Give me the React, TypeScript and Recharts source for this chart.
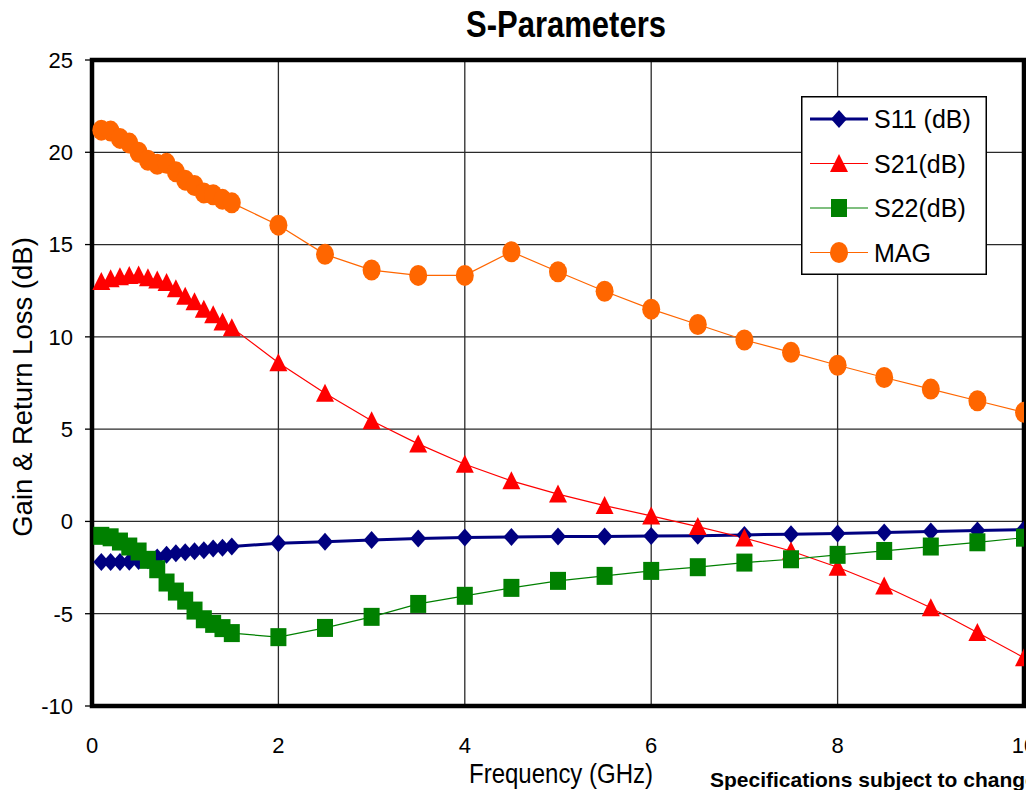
import React from 'react';
import { LineChart, Line, XAxis, YAxis, CartesianGrid, ReferenceArea, Legend } from 'recharts';

const freqGHz = [0.1, 0.2, 0.3, 0.4, 0.5, 0.6, 0.7, 0.8, 0.9, 1.0, 1.1, 1.2, 1.3, 1.4, 1.5, 2, 2.5, 3, 3.5, 4, 4.5, 5, 5.5, 6, 6.5, 7, 7.5, 8, 8.5, 9, 9.5, 10];
const s11dB = [-2.2, -2.2, -2.2, -2.18, -2.15, -2.1, -1.95, -1.8, -1.72, -1.67, -1.62, -1.56, -1.47, -1.42, -1.36, -1.18, -1.1, -1.0, -0.92, -0.87, -0.84, -0.82, -0.81, -0.79, -0.77, -0.73, -0.69, -0.65, -0.6, -0.55, -0.49, -0.44];
const s21dB = [13.0, 13.15, 13.25, 13.33, 13.35, 13.2, 13.08, 12.95, 12.6, 12.2, 11.9, 11.5, 11.2, 10.8, 10.5, 8.6, 6.95, 5.45, 4.2, 3.1, 2.2, 1.48, 0.86, 0.3, -0.28, -0.9, -1.6, -2.48, -3.5, -4.68, -6.02, -7.38];
const s22dB = [-0.78, -0.86, -1.09, -1.36, -1.63, -2.08, -2.59, -3.31, -3.8, -4.29, -4.83, -5.3, -5.55, -5.78, -6.05, -6.27, -5.77, -5.17, -4.47, -4.03, -3.6, -3.22, -2.95, -2.68, -2.48, -2.23, -2.05, -1.81, -1.6, -1.36, -1.13, -0.88];
const magDB = [21.2, 21.15, 20.75, 20.5, 20.0, 19.57, 19.35, 19.4, 18.94, 18.49, 18.2, 17.8, 17.7, 17.45, 17.26, 16.05, 14.47, 13.62, 13.33, 13.33, 14.61, 13.53, 12.47, 11.5, 10.67, 9.83, 9.16, 8.46, 7.8, 7.17, 6.54, 5.91];

const xTicks = [0, 2, 4, 6, 8, 10];
const yTicks = [-10, -5, 0, 5, 10, 15, 20, 25];
const seriesNames = ['S11 (dB)', 'S21(dB)', 'S22(dB)', 'MAG'];

const data = freqGHz.map((f, i) => ({ f, s11: s11dB[i], s21: s21dB[i], s22: s22dB[i], mag: magDB[i] }));

const FONT = '"Liberation Sans", Arial, Helvetica, sans-serif';

type Kind = 'diamond' | 'triangle' | 'square' | 'circle';

const series: { key: string; name: string; color: string; width: number; marker: Kind }[] = [
  { key: 's11', name: seriesNames[0], color: '#000080', width: 3, marker: 'diamond' },
  { key: 's21', name: seriesNames[1], color: '#FF0000', width: 1.2, marker: 'triangle' },
  { key: 's22', name: seriesNames[2], color: '#008000', width: 1.2, marker: 'square' },
  { key: 'mag', name: seriesNames[3], color: '#FF6600', width: 1.2, marker: 'circle' },
];

function Marker({ kind, cx, cy, color }: { kind: Kind; cx: number; cy: number; color: string }) {
  switch (kind) {
    case 'diamond':
      return <polygon points={`${cx},${cy - 9} ${cx + 8},${cy} ${cx},${cy + 9} ${cx - 8},${cy}`} fill={color} />;
    case 'triangle':
      return <polygon points={`${cx},${cy - 9.5} ${cx + 9},${cy + 8.5} ${cx - 9},${cy + 8.5}`} fill={color} />;
    case 'square':
      return <rect x={cx - 8} y={cy - 9} width={16} height={18} fill={color} />;
    default:
      return <ellipse cx={cx} cy={cy} rx={9} ry={10.5} fill={color} />;
  }
}

const makeDot = (kind: Kind, color: string) => (props: any) => {
  const { cx, cy, index } = props;
  if (cx == null || cy == null) return <g key={`e-${kind}-${index}`} />;
  return (
    <g key={`${kind}-${index}`}>
      <Marker kind={kind} cx={cx} cy={cy} color={color} />
    </g>
  );
};

const renderLegend = () => (
  <svg width={186} height={179} style={{ display: 'block' }}>
    <rect x={0.75} y={0.75} width={184.5} height={177.5} fill="#fff" stroke="#000" strokeWidth={1.5} />
    {series.map((s, i) => {
      const cy = 23 + i * 44.5;
      return (
        <g key={s.key}>
          <line x1={9} x2={67} y1={cy} y2={cy} stroke={s.color} strokeWidth={s.width} />
          <Marker kind={s.marker} cx={38} cy={cy} color={s.color} />
          <text x={73} y={cy} dy="0.36em" fontSize={25} fontFamily={FONT} fill="#000">
            {s.name}
          </text>
        </g>
      );
    })}
  </svg>
);

export default function App() {
  return (
    <div style={{ position: 'absolute', left: 0, top: 0, width: 1026, height: 790, overflow: 'hidden', background: '#fff' }}>
      <LineChart width={1100} height={790} data={data} margin={{ top: 60, right: 76, bottom: 34, left: 32 }}>
        <CartesianGrid stroke="#2a2a2a" strokeWidth={1.3} />
        <XAxis
          dataKey="f"
          type="number"
          domain={[0, 10]}
          ticks={xTicks}
          allowDataOverflow
          axisLine={false}
          tickLine={false}
          tickSize={0}
          tickMargin={31}
          height={50}
          tick={{ fontSize: 22, fill: '#000', fontFamily: FONT }}
        />
        <YAxis
          type="number"
          domain={[-10, 25]}
          ticks={yTicks}
          allowDataOverflow
          axisLine={false}
          tickLine={{ stroke: '#000', strokeWidth: 1.3 }}
          tickSize={7}
          tickMargin={12}
          width={60}
          tick={{ fontSize: 22, fill: '#000', fontFamily: FONT }}
        />
        <ReferenceArea x1={0} x2={10} y1={-10} y2={25} fill="none" fillOpacity={0} stroke="#000" strokeWidth={4.5} />
        {series.map((s) => (
          <Line
            key={s.key}
            dataKey={s.key}
            name={s.name}
            type="linear"
            stroke={s.color}
            strokeWidth={s.width}
            dot={makeDot(s.marker, s.color)}
            activeDot={false}
            isAnimationActive={false}
          />
        ))}
        <Legend
          layout="vertical"
          align="center"
          verticalAlign="middle"
          content={renderLegend}
          wrapperStyle={{ left: 801, top: 96, width: 186, height: 179 }}
        />
      </LineChart>
      <svg width={1026} height={790} style={{ position: 'absolute', left: 0, top: 0, pointerEvents: 'none' }}>
        <text transform="translate(566,37) scale(1,1.2)" textAnchor="middle" fontWeight="bold" fontSize={31} fontFamily={FONT} fill="#000">
          S-Parameters
        </text>
        <text transform="translate(561,782.5) scale(1,1.13)" textAnchor="middle" fontSize={24} fontFamily={FONT} fill="#000">
          Frequency (GHz)
        </text>
        <text transform="translate(31.5,387) rotate(-90)" textAnchor="middle" fontSize={27.5} fontFamily={FONT} fill="#000">
          Gain &amp; Return Loss (dB)
        </text>
        <text x={710} y={787} fontWeight="bold" fontSize={21} fontFamily={FONT} fill="#000">
          Specifications subject to change without notice
        </text>
      </svg>
    </div>
  );
}
